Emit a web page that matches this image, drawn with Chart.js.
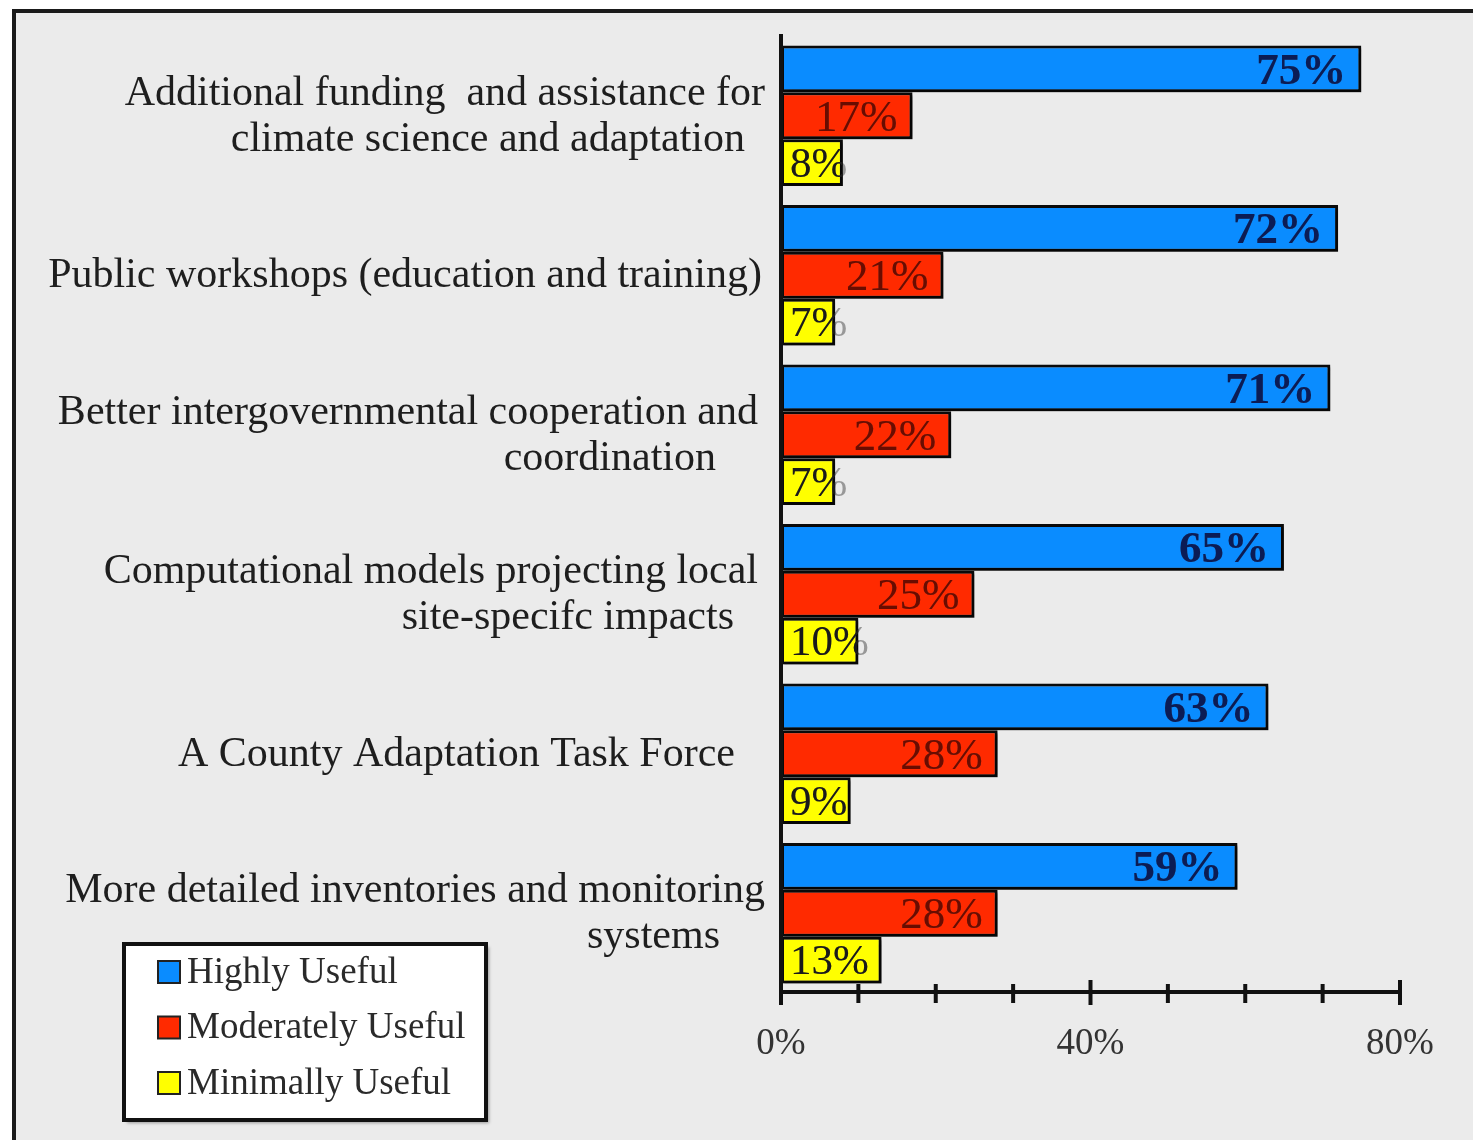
<!DOCTYPE html>
<html>
<head>
<meta charset="utf-8">
<script src="https://cdn.jsdelivr.net/npm/chart.js@4.4.1/dist/chart.umd.min.js"></script>
<style>
  html, body { margin: 0; padding: 0; background: #ffffff; }
  #wrap { position: relative; width: 1473px; height: 1140px; }
  canvas { display: block; }
</style>
</head>
<body>
<div id="wrap"><canvas id="chart" width="1473" height="1140"></canvas></div>
<script>
// Survey results: usefulness of support measures
const categories = [
  ['Additional funding  and assistance for', 'climate science and adaptation'],
  ['Public workshops (education and training)'],
  ['Better intergovernmental cooperation and', 'coordination'],
  ['Computational models projecting local', 'site-specifc impacts'],
  ['A County Adaptation Task Force'],
  ['More detailed inventories and monitoring', 'systems']
];
const seriesNames = ['Highly Useful', 'Moderately Useful', 'Minimally Useful'];
const highlyUseful = [75, 72, 71, 65, 63, 59];
const moderatelyUseful = [17, 21, 22, 25, 28, 28];
const minimallyUseful = [8, 7, 7, 10, 9, 13];
const labelledTicks = [0, 40, 80];

// styling
const SERIF = '"Liberation Serif", "Times New Roman", serif';
const fillColors = ['#0a8cff', '#ff2a00', '#ffff00'];
const valueColors = ['#0b1c55', '#6a0c00', '#1a1a1a'];
const valueFonts = ['bold 45px ' + SERIF, '45px ' + SERIF, '43px ' + SERIF];
const labelRightEdge = 765;
const labelLineInset = [[0, 20], [3], [7, 49], [7, 31], [30], [0, 45]];

const framePlugin = {
  id: 'frame',
  beforeDraw(chart) {
    const ctx = chart.ctx;
    ctx.save();
    ctx.fillStyle = '#ffffff';
    ctx.fillRect(0, 0, chart.width, chart.height);
    ctx.fillStyle = '#ebebeb';
    ctx.fillRect(12, 9, chart.width - 12, chart.height - 9);
    ctx.strokeStyle = '#1a1a1a';
    ctx.lineWidth = 4;
    ctx.beginPath();
    ctx.moveTo(14, chart.height);
    ctx.lineTo(14, 11);
    ctx.lineTo(chart.width, 11);
    ctx.stroke();
    ctx.restore();
  }
};

const shadowPlugin = {
  id: 'barShadow',
  beforeDatasetsDraw(chart) {
    const ctx = chart.ctx;
    ctx.save();
    ctx.shadowColor = 'rgba(0,0,0,0.5)';
    ctx.shadowOffsetX = 3;
    ctx.shadowOffsetY = 3;
    ctx.shadowBlur = 3;
  },
  afterDatasetsDraw(chart) {
    chart.ctx.restore();
  }
};

const valueLabelPlugin = {
  id: 'valueLabels',
  afterDatasetsDraw(chart) {
    const ctx = chart.ctx;
    ctx.save();
    ctx.textBaseline = 'middle';
    ctx.textAlign = 'right';
    chart.data.datasets.forEach((ds, di) => {
      const meta = chart.getDatasetMeta(di);
      ctx.font = valueFonts[di];
      meta.data.forEach((bar, i) => {
        const txt = ds.data[i] + '%';
        const w = ctx.measureText(txt).width;
        const right = Math.max(bar.x - 15, bar.base + 9 + w);
        const y = bar.y + 3;
        const top = bar.y - bar.height / 2;
        // part running past the bar end is drawn faint
        ctx.fillStyle = 'rgba(70,70,70,0.5)';
        ctx.fillText(txt, right, y);
        ctx.save();
        ctx.beginPath();
        ctx.rect(bar.base, top, bar.x - bar.base, bar.height);
        ctx.clip();
        ctx.fillStyle = valueColors[di];
        ctx.fillText(txt, right, y);
        ctx.restore();
      });
    });
    ctx.restore();
  }
};

const axesPlugin = {
  id: 'axesLines',
  afterDraw(chart) {
    const ctx = chart.ctx;
    const xs = chart.scales.x;
    const area = chart.chartArea;
    const yAxis = area.bottom - 1;
    ctx.save();
    ctx.strokeStyle = '#111111';
    ctx.lineWidth = 4;
    ctx.beginPath();
    ctx.moveTo(area.left, area.top - 2);
    ctx.lineTo(area.left, yAxis + 12);
    ctx.moveTo(area.left, yAxis);
    ctx.lineTo(xs.getPixelForValue(xs.max), yAxis);
    ctx.stroke();
    xs.ticks.forEach(t => {
      const x = xs.getPixelForValue(t.value);
      const major = labelledTicks.includes(t.value);
      const up = major ? 12 : 8;
      const down = major ? 13 : 11;
      ctx.beginPath();
      ctx.moveTo(x, yAxis - up);
      ctx.lineTo(x, yAxis + down);
      ctx.stroke();
    });
    ctx.restore();
  }
};

const categoryLabelPlugin = {
  id: 'categoryLabels',
  afterDraw(chart) {
    const ctx = chart.ctx;
    const ys = chart.scales.y;
    ctx.save();
    ctx.font = '42px ' + SERIF;
    ctx.fillStyle = '#1e1e1e';
    ctx.textAlign = 'right';
    ctx.textBaseline = 'middle';
    const lh = 46;
    categories.forEach((lines, i) => {
      const cy = ys.getPixelForValue(i);
      lines.forEach((line, j) => {
        const y = cy + (j - (lines.length - 1) / 2) * lh + 1;
        ctx.fillText(line, labelRightEdge - labelLineInset[i][j], y);
      });
    });
    ctx.restore();
  }
};

const legendPlugin = {
  id: 'boxLegend',
  afterDraw(chart) {
    const ctx = chart.ctx;
    const box = { x: 124, y: 944, w: 362, h: 176 };
    ctx.save();
    ctx.shadowColor = 'rgba(0,0,0,0.35)';
    ctx.shadowOffsetX = 3;
    ctx.shadowOffsetY = 3;
    ctx.shadowBlur = 3;
    ctx.fillStyle = '#ffffff';
    ctx.fillRect(box.x, box.y, box.w, box.h);
    ctx.shadowColor = 'transparent';
    ctx.strokeStyle = '#111111';
    ctx.lineWidth = 4;
    ctx.strokeRect(box.x, box.y, box.w, box.h);
    ctx.font = '37px ' + SERIF;
    ctx.textBaseline = 'middle';
    ctx.textAlign = 'left';
    chart.data.datasets.forEach((ds, i) => {
      const cy = 972 + i * 55.5;
      ctx.fillStyle = ds.backgroundColor;
      ctx.fillRect(158, cy - 11, 22, 22);
      ctx.strokeStyle = '#222222';
      ctx.lineWidth = 2;
      ctx.strokeRect(158, cy - 11, 22, 22);
      ctx.fillStyle = '#2a2a2a';
      ctx.fillText(ds.label, 187, cy + 1);
    });
    ctx.restore();
  }
};

const datasets = [highlyUseful, moderatelyUseful, minimallyUseful].map((values, i) => ({
  label: seriesNames[i],
  data: values,
  backgroundColor: fillColors[i],
  borderColor: '#0a0a0a',
  borderWidth: 3,
  borderSkipped: false,
  categoryPercentage: 0.88,
  barPercentage: 1.0
}));

new Chart(document.getElementById('chart'), {
  type: 'bar',
  data: { labels: categories, datasets },
  options: {
    indexAxis: 'y',
    responsive: false,
    devicePixelRatio: 1,
    animation: false,
    layout: { padding: { left: 781, right: 73, top: 36, bottom: 0 } },
    plugins: { legend: { display: false }, tooltip: { enabled: false } },
    scales: {
      y: { display: false },
      x: {
        min: 0,
        max: 80,
        grid: { display: false, drawTicks: false },
        border: { display: false },
        afterFit(scale) { scale.height = 147; },
        ticks: {
          stepSize: 10,
          autoSkip: false,
          maxRotation: 0,
          padding: 29,
          color: '#333333',
          font: { family: SERIF, size: 37 },
          callback: v => labelledTicks.includes(v) ? v + '%' : ''
        }
      }
    }
  },
  plugins: [framePlugin, shadowPlugin, valueLabelPlugin, axesPlugin, categoryLabelPlugin, legendPlugin]
});
</script>
</body>
</html>
